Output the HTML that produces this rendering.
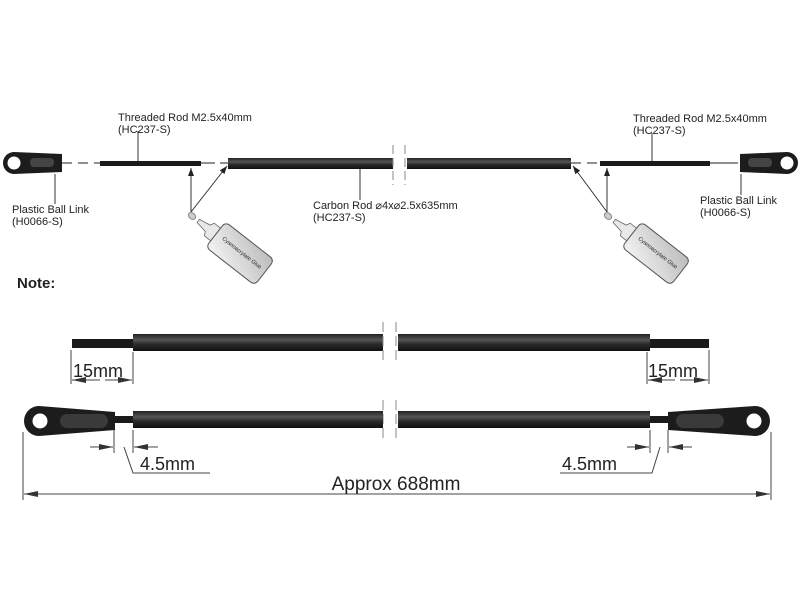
<!DOCTYPE html>
<html><head><meta charset="utf-8"><style>body{margin:0;background:#fff}svg{display:block}text{font-family:"Liberation Sans",sans-serif;fill:#222}</style></head><body>
<svg width="800" height="600" viewBox="0 0 800 600" xmlns="http://www.w3.org/2000/svg">
<defs>
<linearGradient id="rod" x1="0" y1="0" x2="0" y2="1"><stop offset="0" stop-color="#222"/><stop offset="0.35" stop-color="#555"/><stop offset="0.6" stop-color="#2a2a2a"/><stop offset="1" stop-color="#111"/></linearGradient>
<linearGradient id="bot" x1="0" y1="0" x2="1" y2="1"><stop offset="0" stop-color="#f4f4f4"/><stop offset="1" stop-color="#bbb"/></linearGradient>
<marker id="ah" markerWidth="8" markerHeight="6" refX="8" refY="3" orient="auto" markerUnits="userSpaceOnUse"><path d="M0,0 L8,3 L0,6 z" fill="#222"/></marker>
<marker id="dh" markerWidth="14" markerHeight="6" refX="14" refY="3" orient="auto" markerUnits="userSpaceOnUse"><path d="M0,0 L14,3 L0,6 z" fill="#333"/></marker>
</defs>
<path d="M3,163 a11,11 0 0 1 11,-11 L62,154 L62,172 L14,174 a11,11 0 0 1 -11,-11z" fill="#1c1c1c"/>
<circle cx="14" cy="163" r="6.5" fill="#fff"/>
<rect x="30" y="158" width="24" height="9" rx="4" fill="#444"/>
<line x1="62" y1="163" x2="100" y2="163" stroke="#222" stroke-dasharray="10,6"/>
<rect x="100" y="161" width="101" height="5" fill="#1a1a1a"/>
<line x1="201" y1="163" x2="228" y2="163" stroke="#222" stroke-dasharray="14,5"/>
<rect x="228" y="158" width="165" height="11" fill="url(#rod)"/>
<rect x="407" y="158" width="164" height="11" fill="url(#rod)"/>
<g stroke="#888" stroke-dasharray="9,4"><line x1="393" y1="145" x2="393" y2="185"/><line x1="405" y1="145" x2="405" y2="185"/></g>
<line x1="571" y1="163" x2="600" y2="163" stroke="#222" stroke-dasharray="10,6"/>
<rect x="600" y="161" width="110" height="5" fill="#1a1a1a"/>
<line x1="710" y1="163" x2="738" y2="163" stroke="#222"/>
<path d="M798,163 a11,11 0 0 0 -11,-11 L740,154 L740,172 L787,174 a11,11 0 0 0 11,-11z" fill="#1c1c1c"/>
<circle cx="787" cy="163" r="6.5" fill="#fff"/>
<rect x="748" y="158" width="24" height="9" rx="4" fill="#444"/>
<g stroke="#333" fill="none">
<line x1="138" y1="131" x2="138" y2="161"/><line x1="55" y1="174" x2="55" y2="204"/>
<line x1="360" y1="169" x2="360" y2="200"/>
<line x1="652" y1="133" x2="652" y2="161"/><line x1="741" y1="174" x2="741" y2="195"/>
<line x1="191" y1="212" x2="191" y2="168" marker-end="url(#ah)"/><line x1="191" y1="212" x2="227" y2="166" marker-end="url(#ah)"/>
<line x1="607" y1="212" x2="607" y2="168" marker-end="url(#ah)"/><line x1="607" y1="212" x2="573" y2="166" marker-end="url(#ah)"/>
</g>
<text x="118" y="121" font-size="11">Threaded Rod M2.5x40mm</text><text x="118" y="133" font-size="11">(HC237-S)</text>
<text x="12" y="213" font-size="11">Plastic Ball Link</text><text x="12" y="225" font-size="11">(H0066-S)</text>
<text x="313" y="209" font-size="11">Carbon Rod ⌀4x⌀2.5x635mm</text><text x="313" y="221" font-size="11">(HC237-S)</text>
<text x="633" y="122" font-size="11">Threaded Rod M2.5x40mm</text><text x="633" y="134" font-size="11">(HC237-S)</text>
<text x="700" y="204" font-size="11">Plastic Ball Link</text><text x="700" y="216" font-size="11">(H0066-S)</text>
<g transform="translate(192,216) rotate(-52)">
<ellipse cx="0" cy="0" rx="3" ry="4" fill="#ccc" stroke="#888"/>
<path d="M-2,8 L2,8 L4,20 L8,22 L8,30 L-8,30 L-8,22 L-4,20z" fill="#e8e8e8" stroke="#666" stroke-width="0.8"/>
<rect x="-16" y="30" width="32" height="62" rx="5" fill="url(#bot)" stroke="#555"/>
<text x="0" y="62" font-size="5.5" transform="rotate(90 0 62)" text-anchor="middle">Cyanoacrylate Glue</text>
</g>
<g transform="translate(608,216) rotate(-52)">
<ellipse cx="0" cy="0" rx="3" ry="4" fill="#ccc" stroke="#888"/>
<path d="M-2,8 L2,8 L4,20 L8,22 L8,30 L-8,30 L-8,22 L-4,20z" fill="#e8e8e8" stroke="#666" stroke-width="0.8"/>
<rect x="-16" y="30" width="32" height="62" rx="5" fill="url(#bot)" stroke="#555"/>
<text x="0" y="62" font-size="5.5" transform="rotate(90 0 62)" text-anchor="middle">Cyanoacrylate Glue</text>
</g>
<text x="17" y="288" font-size="15" font-weight="bold">Note:</text>
<rect x="72" y="339" width="62" height="9" fill="#1a1a1a"/>
<rect x="133" y="334" width="250" height="17" fill="url(#rod)"/>
<rect x="398" y="334" width="252" height="17" fill="url(#rod)"/>
<rect x="650" y="339" width="59" height="9" fill="#1a1a1a"/>
<g stroke="#888" stroke-dasharray="10,4"><line x1="383" y1="322" x2="383" y2="362"/><line x1="396" y1="322" x2="396" y2="362"/><line x1="383" y1="400" x2="383" y2="440"/><line x1="396" y1="400" x2="396" y2="440"/></g>
<g stroke="#444" fill="none">
<line x1="71" y1="350" x2="71" y2="384"/><line x1="133" y1="352" x2="133" y2="384"/>
<line x1="100" y1="380" x2="72" y2="380" marker-end="url(#dh)"/><line x1="105" y1="380" x2="132" y2="380" marker-end="url(#dh)"/>
<line x1="647" y1="352" x2="647" y2="384"/><line x1="709" y1="350" x2="709" y2="384"/>
<line x1="675" y1="380" x2="648" y2="380" marker-end="url(#dh)"/><line x1="680" y1="380" x2="708" y2="380" marker-end="url(#dh)"/>
</g>
<text x="73" y="377" font-size="18" fill="#444">15mm</text>
<text x="648" y="377" font-size="18" fill="#444">15mm</text>
<path d="M24,421 a15,15 0 0 1 15,-15 L115,412 L115,430 L39,436 a15,15 0 0 1 -15,-15z" fill="#1c1c1c"/>
<circle cx="40" cy="421" r="7.5" fill="#fff"/>
<rect x="60" y="414" width="48" height="14" rx="7" fill="#3a3a3a"/>
<rect x="115" y="416" width="18" height="7" fill="#1a1a1a"/>
<rect x="133" y="411" width="250" height="17" fill="url(#rod)"/>
<rect x="398" y="411" width="252" height="17" fill="url(#rod)"/>
<rect x="650" y="416" width="18" height="7" fill="#1a1a1a"/>
<path d="M770,421 a15,15 0 0 0 -15,-15 L668,412 L668,430 L755,436 a15,15 0 0 0 15,-15z" fill="#1c1c1c"/>
<circle cx="754" cy="421" r="7.5" fill="#fff"/>
<rect x="676" y="414" width="48" height="14" rx="7" fill="#3a3a3a"/>
<g stroke="#444" fill="none">
<line x1="114" y1="430" x2="114" y2="453"/><line x1="133" y1="430" x2="133" y2="453"/>
<line x1="90" y1="447" x2="113" y2="447" marker-end="url(#dh)"/><line x1="158" y1="447" x2="134" y2="447" marker-end="url(#dh)"/>
<polyline points="124,447 133,473 210,473"/>
<line x1="650" y1="430" x2="650" y2="453"/><line x1="668" y1="430" x2="668" y2="453"/>
<line x1="627" y1="447" x2="649" y2="447" marker-end="url(#dh)"/><line x1="692" y1="447" x2="669" y2="447" marker-end="url(#dh)"/>
<polyline points="660,447 652,473 560,473"/>
<line x1="23" y1="432" x2="23" y2="500"/><line x1="771" y1="432" x2="771" y2="500"/>
<line x1="300" y1="494" x2="24" y2="494" marker-end="url(#dh)"/><line x1="300" y1="494" x2="770" y2="494" marker-end="url(#dh)"/>
</g>
<text x="140" y="470" font-size="18" fill="#444">4.5mm</text>
<text x="562" y="470" font-size="18" fill="#444">4.5mm</text>
<text x="396" y="490" font-size="19" fill="#444" text-anchor="middle">Approx 688mm</text>
</svg>
</body></html>
